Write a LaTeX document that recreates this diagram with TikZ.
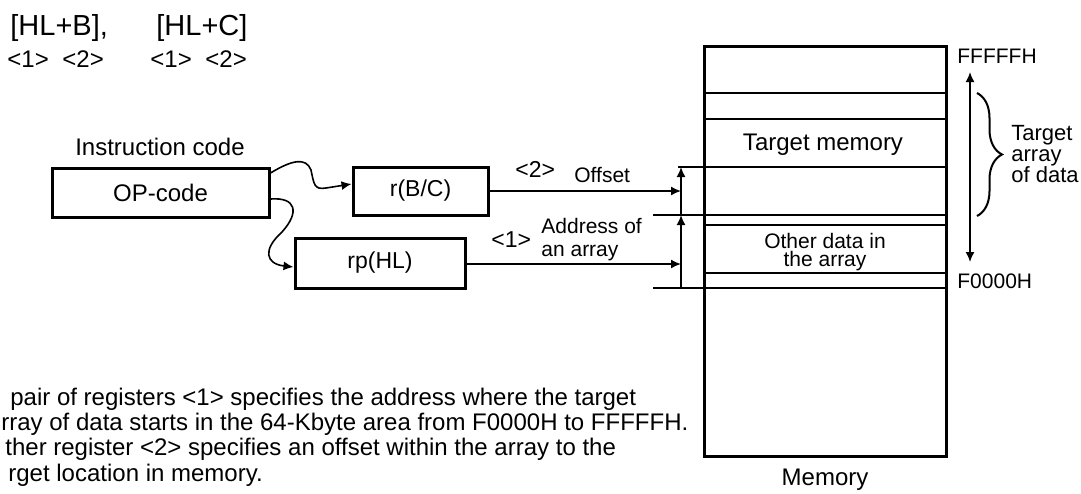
\documentclass[tikz,border=0pt]{standalone}
\usepackage{fontspec}
\setmainfont{Liberation Sans}
\usetikzlibrary{arrows.meta,decorations.pathreplacing}
\newcommand\fzTop{\fontsize{14.5}{17}\selectfont}
\newcommand\fzBig{\fontsize{12}{14}\selectfont}
\newcommand\fzMid{\fontsize{11.5}{13.5}\selectfont}
\newcommand\fzSml{\fontsize{10.5}{12.5}\selectfont}
\newcommand\fzTin{\fontsize{11}{13}\selectfont}
\begin{document}
\begin{tikzpicture}[x=0.5pt,y=-0.5pt,
  box/.style={draw,line width=1.5pt,inner sep=0pt},
  txt/.style={inner sep=0pt,anchor=base west},
  ctxt/.style={inner sep=0pt,anchor=base},
  arr/.style={line width=0.8pt,-{Latex[length=5pt,width=4.5pt]}},
  dblarr/.style={line width=0.8pt,{Latex[length=5pt,width=4.5pt]}-{Latex[length=5pt,width=4.5pt]}},
  mline/.style={line width=1pt}]
\useasboundingbox (0,0) rectangle (1081,493);
% top formula
\node[txt,font=\fzTop] (hb) at (10,35) {[HL+B],};
\node[txt,font=\fzTop] (hc) at (156,35) {[HL+C]};
\node[txt,font=\fzBig] (n1) at (7,67) {<1>};
\node[txt,font=\fzBig] (n2) at (62,67) {<2>};
\node[txt,font=\fzBig] (n3) at (150,67) {<1>};
\node[txt,font=\fzBig] (n4) at (205,67) {<2>};
% instruction boxes
\node[ctxt,font=\fzBig] (ic) at (160,155) {Instruction code};
\node[box,minimum width=108.5pt,minimum height=24.5pt,font=\fzBig] (op) at (160.5,192.5) {OP-code};
\node[box,minimum width=67.5pt,minimum height=24pt,font=\fzMid] (r) at (420.5,191) {r(B/C)};
\node[box,minimum width=85pt,minimum height=25pt,font=\fzMid] (rp) at (380,263) {rp(HL)};
% wavy connectors
\draw[arr] ([yshift=9.75pt]op.east) .. controls (292,160) and (306,157) .. (311,170)
  .. controls (314,184) and (314,190) .. (326,188) -- ([yshift=3.5pt]r.west);
\draw[arr] ([yshift=-3.25pt]op.east) .. controls (296,197) and (300,212) .. (282,232)
  .. controls (262,250) and (266,264) .. ([yshift=-2pt]rp.west);
% memory
\draw[line width=1.5pt] (704,46) rectangle (946,456);
\draw[mline] (704,93) -- (946,93);
\draw[mline] (704,119) -- (946,119);
\draw[mline] (678,167) -- (946,167);
\draw[mline] (653,215) -- (946,215);
\draw[mline] (704,225) -- (946,225);
\draw[mline] (704,273) -- (946,273);
\draw[mline] (653,288) -- (946,288);
\coordinate (p0) at (681,288);
\coordinate (p1) at (681,215);
\coordinate (p2) at (681,167);
\draw[arr] (p0) -- (p1);
\draw[arr] (p1) -- (p2);
\draw[arr] (r) -- (r -| p1);
\draw[arr] ([yshift=-0.5pt]rp.east) -- ([yshift=-0.5pt]rp.east -| p1);
% labels on arrows
\node[txt,font=\fzMid] (l2) at (515,177) {<2>};
\node[txt,font=\fzSml] (off) at (574,182) {Offset};
\node[txt,font=\fzMid] (l1) at (491,247) {<1>};
\node[txt,font=\fzSml] (ad1) at (541,233) {Address of};
\node[txt,font=\fzSml] (ad2) at (541,256) {an array};
% memory texts
\node[ctxt,font=\fzBig] (tm) at (823,150) {Target memory};
\node[ctxt,font=\fzSml] (od1) at (825,248) {Other data in};
\node[ctxt,font=\fzSml] (od2) at (825,266) {the array};
\node[txt,font=\fzSml] (ff) at (957,63) {FFFFFH};
\node[txt,font=\fzSml] (f0) at (957,288) {F0000H};
\coordinate (hi) at (970,72);
\coordinate (lo) at (970,262);
\draw[dblarr] (hi) -- (lo);
\draw[line width=1pt,decorate,decoration={brace,amplitude=12.5pt}] (977,93) -- (977,216);
\node[txt,font=\fzTin] (ta1) at (1011,140) {Target};
\node[txt,font=\fzTin] (ta2) at (1011,161) {array};
\node[txt,font=\fzTin] (ta3) at (1011,182) {of data};
\node[ctxt,font=\fzBig] (memlbl) at (825,485) {Memory};
% bottom text
\node[txt,font=\fzBig] (b1) at (10,405) {pair of registers <1> specifies the address where the target};
\node[txt,font=\fzBig] (b2) at (1,430) {rray of data starts in the 64-Kbyte area from F0000H to FFFFFH.};
\node[txt,font=\fzBig] (b3) at (5,455) {ther register <2> specifies an offset within the array to the};
\node[txt,font=\fzBig] (b4) at (8,481) {rget location in memory.};
\end{tikzpicture}
\end{document}
